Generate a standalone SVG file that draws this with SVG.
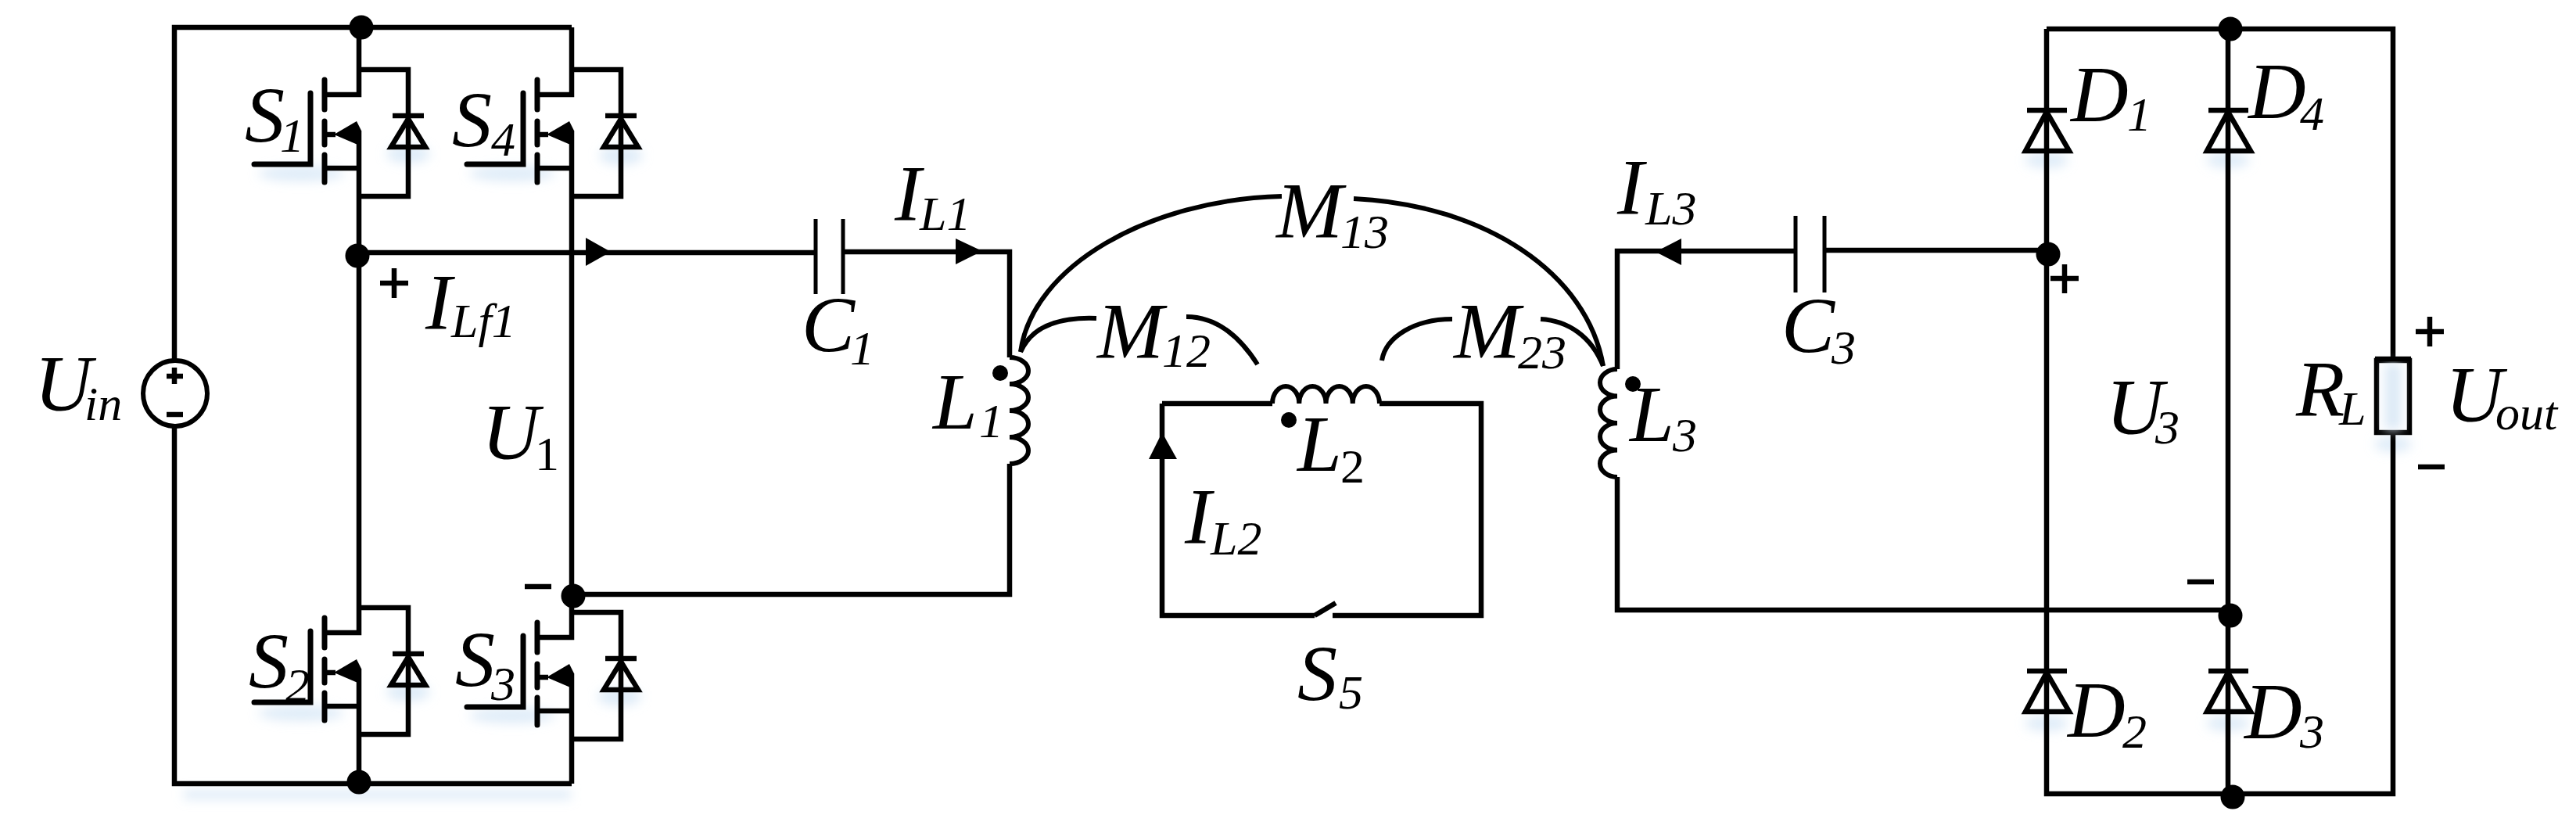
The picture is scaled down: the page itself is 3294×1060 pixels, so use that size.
<svg xmlns="http://www.w3.org/2000/svg" xmlns:xlink="http://www.w3.org/1999/xlink" width="3294" height="1060" viewBox="0 0 3294 1060">
<style>
.w{fill:none;stroke:#000;stroke-width:6.5;stroke-linecap:butt;stroke-linejoin:miter}
.r{fill:none;stroke:#000;stroke-width:7;stroke-linecap:round;stroke-linejoin:miter}
.t{fill:none;stroke:#000;stroke-width:5}
.c{fill:none;stroke:#000;stroke-width:6}
.k{fill:#000;stroke:none}
.l{font-family:"Liberation Serif","Times New Roman",serif;font-style:italic;font-size:102px;fill:#000}
.s{font-size:62px}
.u{font-style:normal}
.g{fill:#c5dcf2;opacity:.55}
</style>
<defs>
<filter id="blur" x="-50%" y="-50%" width="200%" height="200%"><feGaussianBlur stdDeviation="7"/></filter>
<g id="mos">
<path class="w" d="M0 -32V0H-44M0 46V130M-44 94H0"/>
<path class="r" d="M-44 -19V19M-44 34V64M-44 77V112M-134 89H-62V-2"/>
<path class="w" d="M-44 51H-30"/>
<path class="k" d="M-32 51L-3 34L3 46V66Z"/>
<path class="w" d="M0 -32H63V130H0"/>
<path class="w" d="M43 27H83"/>
<path class="w" d="M63 31L41 67H85Z"/>
</g>
<g id="dio">
<path class="w" d="M-25 0H26"/>
<path class="w" d="M0 2L-27 52H29Z"/>
</g>
</defs>
<rect width="3294" height="1060" fill="#fff"/>
<g id="glow" filter="url(#blur)">
<ellipse class="g" cx="522" cy="197" rx="28" ry="12"/><ellipse class="g" cx="794" cy="199" rx="28" ry="12"/>
<ellipse class="g" cx="522" cy="885" rx="28" ry="12"/><ellipse class="g" cx="792" cy="891" rx="28" ry="12"/>
<ellipse class="g" cx="385" cy="222" rx="55" ry="10"/><ellipse class="g" cx="655" cy="222" rx="55" ry="10"/>
<ellipse class="g" cx="385" cy="912" rx="55" ry="10"/><ellipse class="g" cx="655" cy="915" rx="55" ry="10"/>
<rect class="g" x="235" y="1010" width="495" height="12"/>
<ellipse class="g" cx="2617" cy="205" rx="28" ry="10"/><ellipse class="g" cx="2849" cy="205" rx="28" ry="10"/>
<ellipse class="g" cx="2617" cy="925" rx="28" ry="10"/><ellipse class="g" cx="2849" cy="925" rx="28" ry="10"/>
<ellipse class="g" cx="3060" cy="568" rx="24" ry="10"/>
</g>
<g id="connectors">
<path class="w" d="M459 35V89M459 251V777M459 939V1002"/>
<path class="w" d="M731 35V89M731 251V783M731 945V1002"/>
<path class="w" d="M223 461V35H731M223 545V1002H731"/>
<path class="w" d="M457 323H1043M1078 322H1291V457M1291 593V760H733"/>
<path class="w" d="M1486 516H1627M1764 516H1894V787H1704M1681 787H1486V516M1681 787L1708 771"/>
<path class="w" d="M2068 472V321H2296M2333 320H2619M2068 610V780H2852"/>
<path class="w" d="M2617 37H3060V458M3060 555V1015H2617V37M2849 37V1015"/>
<path class="k" d="M749 304L781 322L749 340Z"/>
<path class="k" d="M1222 305L1256 321L1222 338Z"/>
<path class="k" d="M1486 553L1505 587H1469Z"/>
<path class="k" d="M2150 305L2117 322L2150 339Z"/>
<path class="c" d="M1305 450C1320 340 1470 255 1639 251M1731 254C1900 262 2030 350 2050 468"/>
<path class="c" d="M1305 450C1318 420 1350 405 1402 407M1517 405C1555 405 1585 430 1608 466"/>
<path class="c" d="M1767 461C1772 430 1810 408 1857 408M1970 408C2005 410 2035 430 2050 468"/>
</g>
<g id="Uin"><ellipse cx="224" cy="503" rx="41" ry="42" fill="#fff" stroke="#000" stroke-width="6"/><path class="w" d="M213 481H234M223 470V491M213 530H234"/><text class="l" x="44" y="525">U<tspan class="s" x="108" y="537">in</tspan></text></g>
<g id="S1"><use xlink:href="#mos" href="#mos" x="459" y="121"/><text class="l" x="313" y="182">S<tspan class="s" x="358" y="194">1</tspan></text></g>
<g id="S4"><use xlink:href="#mos" href="#mos" x="731" y="121"/><text class="l" x="578" y="188">S<tspan class="s" x="628" y="199">4</tspan></text></g>
<g id="S2"><use xlink:href="#mos" href="#mos" x="459" y="809"/><text class="l" x="318" y="880">S<tspan class="s" x="365" y="897">2</tspan></text></g>
<g id="S3"><use xlink:href="#mos" href="#mos" x="731" y="815"/><text class="l" x="582" y="878">S<tspan class="s" x="628" y="895">3</tspan></text></g>
<g id="dots"><circle class="k" cx="462" cy="35" r="15.5"/><circle class="k" cx="457" cy="327" r="15.5"/><circle class="k" cx="733" cy="762" r="15.5"/><circle class="k" cx="459" cy="1000" r="15.5"/><circle class="k" cx="2852" cy="37" r="15.5"/><circle class="k" cx="2619" cy="325" r="15.5"/><circle class="k" cx="2852" cy="787" r="15.5"/><circle class="k" cx="2855" cy="1019" r="15.5"/></g>
<g id="node-u1"><path class="w" d="M486 362H522M504 343V381M671 750H705"/><text class="l" x="544" y="421">I<tspan class="s" x="577" y="431">Lf1</tspan></text><text class="l" x="616" y="587">U<tspan class="s u" x="684" y="601">1</tspan></text></g>
<g id="C1"><path class="t" d="M1043 280V376M1078 280V376"/><text class="l" x="1025" y="450">C<tspan class="s" x="1087" y="466">1</tspan></text><text class="l" x="1144" y="282">I<tspan class="s" x="1176" y="294">L1</tspan></text></g>
<g id="L1"><path class="c" d="M1291 457a24 17 0 0 1 0 34a24 17 0 0 1 0 34a24 17 0 0 1 0 34a24 17 0 0 1 0 34"/><circle class="k" cx="1279" cy="477" r="10"/><text class="l" x="1193" y="548">L<tspan class="s" x="1252" y="559">1</tspan></text></g>
<g id="L2"><path class="c" d="M1627 516a17.1 22 0 0 1 34.25 0a17.1 22 0 0 1 34.25 0a17.1 22 0 0 1 34.25 0a17.1 22 0 0 1 34.25 0"/><circle class="k" cx="1648" cy="537" r="10"/><text class="l" x="1659" y="602">L<tspan class="s u" x="1714" y="617">2</tspan></text><text class="l" x="1515" y="695">I<tspan class="s" x="1548" y="709">L2</tspan></text></g>
<g id="L3"><path class="c" d="M2068 472a22 17.25 0 0 0 0 34.5a22 17.25 0 0 0 0 34.5a22 17.25 0 0 0 0 34.5a22 17.25 0 0 0 0 34.5"/><circle class="k" cx="2088" cy="491" r="10"/><text class="l" x="2084" y="564">L<tspan class="s" x="2139" y="577">3</tspan></text><text class="l" x="2068" y="274">I<tspan class="s" x="2104" y="287">L3</tspan></text></g>
<g id="M"><text class="l" x="1632" y="304">M<tspan class="s" x="1714" y="317">13</tspan></text><text class="l" x="1403" y="458">M<tspan class="s" x="1486" y="469">12</tspan></text><text class="l" x="1859" y="458">M<tspan class="s" x="1941" y="471">23</tspan></text></g>
<g id="S5"><text class="l" x="1659" y="896">S<tspan class="s" x="1712" y="906">5</tspan></text></g>
<g id="C3"><path class="t" d="M2296 276V374M2333 276V374"/><text class="l" x="2278" y="451">C<tspan class="s" x="2342" y="465">3</tspan></text></g>
<g id="D1"><use xlink:href="#dio" href="#dio" x="2617" y="141"/><text class="l" x="2648" y="155">D<tspan class="s" x="2720" y="167">1</tspan></text></g>
<g id="D4"><use xlink:href="#dio" href="#dio" x="2849" y="141"/><text class="l" x="2875" y="151">D<tspan class="s" x="2941" y="166">4</tspan></text></g>
<g id="D2"><use xlink:href="#dio" href="#dio" x="2617" y="858"/><text class="l" x="2644" y="942">D<tspan class="s" x="2714" y="956">2</tspan></text></g>
<g id="D3"><use xlink:href="#dio" href="#dio" x="2849" y="858"/><text class="l" x="2870" y="944">D<tspan class="s" x="2941" y="956">3</tspan></text></g>
<g id="node-u3"><path class="w" d="M2622 356H2658M2640 338V375M2797 744H2831"/><text class="l" x="2693" y="555">U<tspan class="s" x="2756" y="567">3</tspan></text></g>
<g id="RL"><rect x="3039" y="461" width="42" height="92" fill="#fff" stroke="#000" stroke-width="6.5"/><rect x="3050" y="465" width="20" height="84" fill="#dbe9f6" filter="url(#blur)"/><path class="w" d="M3037 459H3083"/><path class="w" d="M3089 424H3125M3107 405V443M3092 597H3126"/><text class="l" x="2936" y="532">R<tspan class="s" x="2991" y="543">L</tspan></text><text class="l" x="3127" y="539">U<tspan class="s" x="3191" y="549">out</tspan></text></g>
</svg>
